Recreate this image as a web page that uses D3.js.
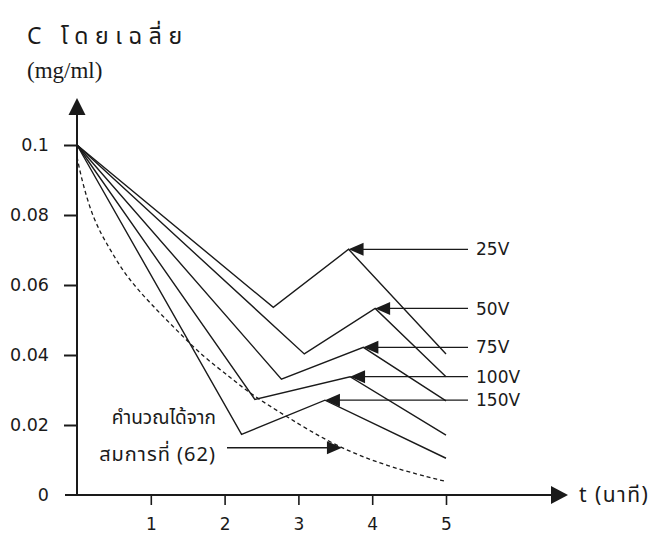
<!DOCTYPE html>
<html><head><meta charset="utf-8">
<script src="https://cdn.jsdelivr.net/npm/d3@7/dist/d3.min.js"></script>
<style>
body{margin:0;background:#fff;}
svg{display:block;}
</style></head>
<body><svg id="c" width="652" height="535"></svg>
<script>
// ---- data ----
const seriesNames = ["25V", "50V", "75V", "100V", "150V"];
const time25V  = [0, 2.66, 3.68, 5.0];
const conc25V  = [0.100, 0.0536, 0.0702, 0.0403];
const time50V  = [0, 3.08, 4.04, 5.0];
const conc50V  = [0.100, 0.0403, 0.0533, 0.0338];
const time75V  = [0, 2.77, 3.88, 5.0];
const conc75V  = [0.100, 0.0331, 0.0422, 0.0269];
const time100V = [0, 2.41, 3.70, 5.0];
const conc100V = [0.100, 0.0273, 0.0338, 0.0171];
const time150V = [0, 2.23, 3.36, 5.0];
const conc150V = [0.100, 0.0173, 0.0271, 0.0105];
const calcTime = [0, 0.064, 0.22, 0.45, 0.67, 0.99, 1.35, 1.71, 2.07, 2.34, 2.84, 3.47, 4.20, 5.01];
const calcConc = [0.0966, 0.090, 0.0786, 0.070, 0.0624, 0.0548, 0.0471, 0.0395, 0.0338, 0.029, 0.0224, 0.0143, 0.0081, 0.0038];
const calcArrowTarget = [3.59, 0.0135];
const xTickValues = [1, 2, 3, 4, 5];
const xTickLabels = ["1", "2", "3", "4", "5"];
const yTickValues = [0, 0.02, 0.04, 0.06, 0.08, 0.1];
const yTickLabels = ["0", "0.02", "0.04", "0.06", "0.08", "0.1"];
const titleText = "C โดยเฉลี่ย";
const unitText = "(mg/ml)";
const xAxisText = "t (นาที)";
const noteLine1 = "คำนวณได้จาก";
const noteLine2 = "สมการที่ (62)";

const seriesData = [
  [time25V, conc25V], [time50V, conc50V], [time75V, conc75V],
  [time100V, conc100V], [time150V, conc150V]
].map(([t, c]) => t.map((v, i) => [v, c[i]]));
const calcData = calcTime.map((v, i) => [v, calcConc[i]]);

// ---- layout ----
const svg = d3.select("#c");
const x = d3.scaleLinear().domain([0, 5]).range([77, 446]);
const y = d3.scaleLinear().domain([0, 0.1]).range([495, 145]);
const ink = "#1a1a1a";
const sans = "'DejaVu Sans', 'Noto Sans Thai', sans-serif";
const thai = "'Noto Sans Thai', 'Loma', 'Garuda', 'Tlwg Typo', 'DejaVu Sans', sans-serif";

function triangle(tipX, tipY, dir, len, half) {
  if (dir === "left") return `M${tipX},${tipY}L${tipX+len},${tipY-half}L${tipX+len},${tipY+half}Z`;
  if (dir === "right") return `M${tipX},${tipY}L${tipX-len},${tipY-half}L${tipX-len},${tipY+half}Z`;
  return `M${tipX},${tipY}L${tipX-half},${tipY+len}L${tipX+half},${tipY+len}Z`;
}

// axes lines
svg.append("line").attr("x1", x(0)).attr("x2", x(0)).attr("y1", y(0)).attr("y2", 114)
  .attr("stroke", ink).attr("stroke-width", 2);
svg.append("path").attr("d", triangle(x(0), 98, "up", 17, 8.5)).attr("fill", ink);
svg.append("line").attr("x1", 65).attr("x2", 553).attr("y1", y(0)).attr("y2", y(0))
  .attr("stroke", ink).attr("stroke-width", 2);
svg.append("path").attr("d", triangle(568, y(0), "right", 17, 9)).attr("fill", ink);

// y axis ticks
const yAxis = d3.axisLeft(y).tickValues(yTickValues).tickSize(13).tickPadding(15)
  .tickFormat((d, i) => yTickLabels[i]);
const gy = svg.append("g").attr("transform", `translate(${x(0)},0)`).call(yAxis);
gy.select(".domain").remove();
gy.selectAll(".tick line").attr("stroke", ink).attr("stroke-width", 2);
gy.selectAll(".tick text").attr("font-family", sans).attr("font-size", 17.5).attr("fill", ink);
gy.selectAll(".tick").filter(d => d === 0).select("line").remove();

// x axis ticks
const xAxis = d3.axisBottom(x).tickValues(xTickValues).tickSize(10).tickPadding(13)
  .tickFormat((d, i) => xTickLabels[i]);
const gx = svg.append("g").attr("transform", `translate(0,${y(0)})`).call(xAxis);
gx.select(".domain").remove();
gx.selectAll(".tick line").attr("stroke", ink).attr("stroke-width", 1.6);
gx.selectAll(".tick text").attr("font-family", sans).attr("font-size", 17).attr("fill", ink);

// series lines
const line = d3.line().x(d => x(d[0])).y(d => y(d[1]));
svg.append("g").selectAll("path").data(seriesData).join("path")
  .attr("d", line).attr("fill", "none").attr("stroke", ink).attr("stroke-width", 1.4)
  .attr("stroke-linejoin", "miter");

// calculated dashed curve
const curveLine = d3.line().x(d => x(d[0])).y(d => y(d[1])).curve(d3.curveBasis);
svg.append("path").attr("d", curveLine(calcData)).attr("fill", "none")
  .attr("stroke", ink).attr("stroke-width", 1.3).attr("stroke-dasharray", "4,3");

// legend arrows to peaks
const labelLineEnd = 468;
seriesData.forEach((s, i) => {
  const pk = s[2];
  const px = x(pk[0]), py = y(pk[1]);
  svg.append("line").attr("x1", px + 10).attr("x2", labelLineEnd).attr("y1", py).attr("y2", py)
    .attr("stroke", ink).attr("stroke-width", 1.3);
  svg.append("path").attr("d", triangle(px, py, "left", 15, 6.5)).attr("fill", ink);
  svg.append("text").attr("x", 476).attr("y", py).attr("dy", "0.36em")
    .attr("font-family", sans).attr("font-size", 17).attr("fill", ink).text(seriesNames[i]);
});

// note arrow
const nx = x(calcArrowTarget[0]), ny = y(calcArrowTarget[1]);
svg.append("line").attr("x1", 227).attr("x2", nx - 10).attr("y1", ny).attr("y2", ny)
  .attr("stroke", ink).attr("stroke-width", 1.3);
svg.append("path").attr("d", triangle(nx, ny, "right", 15, 6.5)).attr("fill", ink);
svg.append("text").attr("x", 216).attr("y", 424).attr("text-anchor", "end")
  .attr("font-family", thai).attr("font-size", 19).attr("fill", ink).text(noteLine1);
svg.append("text").attr("x", 216).attr("y", 461).attr("text-anchor", "end")
  .attr("font-family", thai).attr("font-size", 20).attr("letter-spacing", 1).attr("fill", ink).text(noteLine2);

// titles
svg.append("text").attr("x", 27).attr("y", 44).attr("font-family", thai).attr("font-size", 23)
  .attr("letter-spacing", 6.6).attr("fill", ink).text(titleText);
svg.append("text").attr("x", 27).attr("y", 78).attr("font-family", "'Liberation Serif', serif")
  .attr("font-size", 23).attr("fill", ink).text(unitText);
svg.append("text").attr("x", 579).attr("y", 502).attr("font-family", thai).attr("font-size", 21)
  .attr("letter-spacing", 1.5).attr("fill", ink).text(xAxisText);
</script></body></html>
